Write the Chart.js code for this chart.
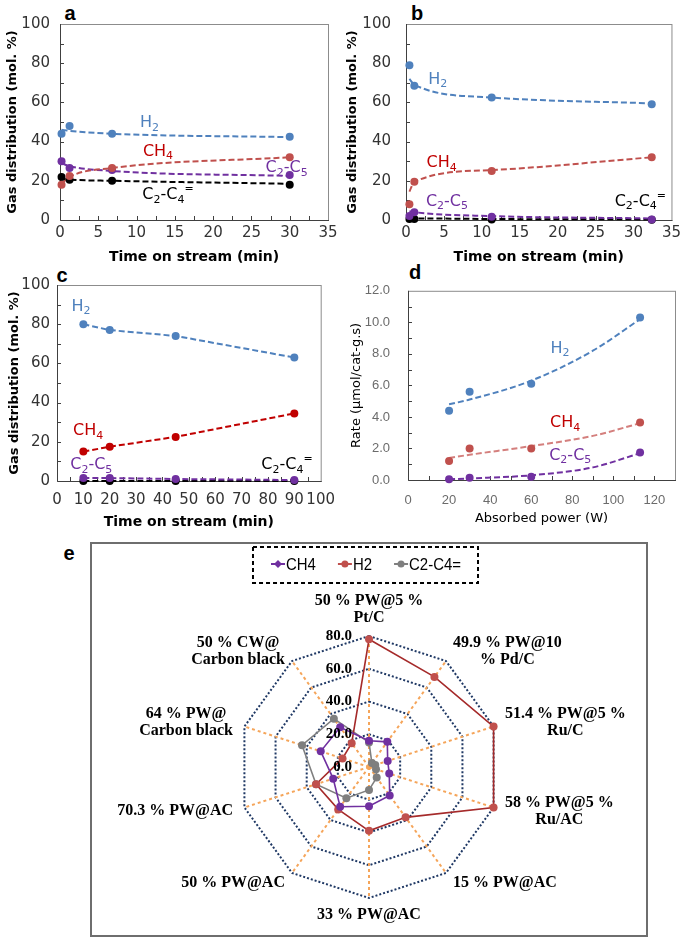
<!DOCTYPE html>
<html>
<head>
<meta charset="utf-8">
<script src="https://cdn.jsdelivr.net/npm/chart.js@4.4.1/dist/chart.umd.min.js"></script>
<style>
body { margin: 0; background: #fff; width: 685px; height: 938px; position: relative; overflow: hidden; }
canvas { position: absolute; }
.letter { position: absolute; font: bold 20px "Liberation Sans", Arial, sans-serif; transform: translate(-50%, -50%); }
#boxE { position: absolute; left: 90px; top: 542px; width: 554px; height: 391px; border: 2px solid #6e6e6e; }
</style>
</head>
<body>
<div class="letter" style="left:70px;top:13px">a</div>
<div class="letter" style="left:417px;top:13px">b</div>
<div class="letter" style="left:62px;top:275px">c</div>
<div class="letter" style="left:415px;top:272px">d</div>
<div class="letter" style="left:69px;top:553px">e</div>
<div id="boxE"></div>
<canvas id="chartA" width="345" height="266" style="left:0;top:0"></canvas>
<canvas id="chartB" width="345" height="266" style="left:340px;top:0"></canvas>
<canvas id="chartC" width="345" height="266" style="left:0;top:265px"></canvas>
<canvas id="chartD" width="345" height="266" style="left:340px;top:265px"></canvas>
<canvas id="chartE" width="554" height="391" style="left:92px;top:544px"></canvas>
<script>
//--------------------- DONNEES -------------------------
const species = ['H_2', 'CH_4', 'C_2-C_5', 'C_2-C_4^='];

// a : time on stream
const timeA = [0.2, 1.25, 6.8, 30];
const h2A = [44, 48, 44, 42.5];
const ch4A = [18, 22.5, 26.5, 32];
const c2c5A = [30, 26.5, 25.5, 23];
const olefA = [22, 20.5, 20, 18];
const h2FitA = [46, 45.5, 44, 42.3];
const ch4FitA = [18.5, 22, 26.5, 32];
const c2c5FitA = [29, 27.5, 25, 22.5];
const olefFitA = [21, 20.6, 20, 18.5];

// b
const timeB = [0.45, 1.1, 11.3, 32.4];
const h2B = [79, 68.5, 62.5, 59];
const ch4B = [8, 19.5, 25, 32];
const c2c5B = [2, 4, 1.7, 0.3];
const olefB = [0.5, 0.5, 0.2, 0.1];
const h2FitB = [72, 69, 62.5, 59.5];
const ch4FitB = [14.5, 19.5, 25.5, 32];
const c2c5FitB = [4.5, 4, 2, 0.8];
const olefFitB = [0.8, 0.8, 0.5, 0.3];

// c
const timeC = [10, 20, 45, 90];
const h2C = [80, 77, 74, 63];
const ch4C = [15, 17.5, 22.5, 34.5];
const c2c5C = [1.5, 1.5, 1, 0.5];
const olefC = [0, 0, 0, 0];

// d : absorbed power
const powerD = [20, 30, 60, 113];
const h2D = [4.4, 5.6, 6.1, 10.3];
const ch4D = [1.2, 2.0, 2.0, 3.65];
const c2c5D = [0.05, 0.15, 0.2, 1.75];
const powerFitD = [20, 30, 60, 90, 113];
const h2FitD = [4.8, 5.1, 6.3, 8.2, 10.2];
const ch4FitD = [1.4, 1.6, 2.15, 2.8, 3.6];
const c2c5FitD = [0.05, 0.1, 0.3, 0.8, 1.7];

// e : radar
const catalystsE = [['50 % PW@5 %', 'Pt/C'], ['49.9 % PW@10', '% Pd/C'], ['51.4 % PW@5 %', 'Ru/C'], ['58 % PW@5 %', 'Ru/AC'],
    '15 % PW@AC', '33 % PW@AC', '50 % PW@AC', '70.3 % PW@AC', ['64 % PW@', 'Carbon black'], ['50 % CW@', 'Carbon black']];
const ch4E = [16, 19, 12, 13, 21.5, 24, 30, 23, 31, 30];
const h2E = [78, 68, 80, 80, 38, 39, 32, 34, 17, 18];
const olefE = [15, 3, 4, 4.5, 8, 14, 23.5, 34, 43, 36.5];
const legendE = ['CH4', 'H2', 'C2-C4='];

//--------------------- COULEURS -------------------------
const BLUE = '#4f81bd', RED = '#c0504d', DRED = '#c00000', PURPLE = '#7030a0', BLACK = '#000000', GREY = '#7f7f7f';
const SANS = '"DejaVu Sans", sans-serif';
const SERIF_B = 'bold 16px "Liberation Serif", "Times New Roman", serif';

// texte avec indices / exposants : H_2, C_2-C_4^=
function drawChem(ctx, str, cx, cy, color, size) {
    const parts = [];
    for (let i = 0; i < str.length; i++) {
        const c = str[i];
        if ((c === '_' || c === '^') && i + 1 < str.length) parts.push({ t: str[++i], k: c });
        else parts.push({ t: c, k: '' });
    }
    const big = size + 'px ' + SANS, small = Math.round(size * 0.68) + 'px ' + SANS;
    ctx.save();
    ctx.fillStyle = color;
    ctx.textBaseline = 'middle';
    ctx.textAlign = 'left';
    let w = 0;
    parts.forEach(p => { ctx.font = p.k ? small : big; p.w = ctx.measureText(p.t).width; w += p.w; });
    let xx = cx - w / 2;
    parts.forEach(p => {
        ctx.font = p.k ? small : big;
        const dy = p.k === '_' ? size * 0.3 : (p.k === '^' ? -size * 0.35 : 0);
        ctx.fillText(p.t, xx, cy + dy);
        xx += p.w;
    });
    ctx.restore();
}

// cadre + petites graduations + noms des gaz
const framePlugin = {
    id: 'frame',
    beforeDatasetsDraw(chart, args, o) {
        const { ctx, chartArea: a, scales: { x, y } } = chart;
        ctx.save();
        ctx.lineWidth = 1;
        ctx.strokeStyle = '#8c8c8c';
        ctx.strokeRect(a.left + 0.5, a.top + 0.5, a.right - a.left, a.bottom - a.top);
        ctx.strokeStyle = '#404040';
        ctx.beginPath();
        ctx.moveTo(a.left + 0.5, a.top);
        ctx.lineTo(a.left + 0.5, a.bottom + 0.5);
        ctx.lineTo(a.right + 1, a.bottom + 0.5);
        for (let v = x.min + o.xMinor; v < x.max - 1e-6; v += o.xMinor) {
            const p = Math.round(x.getPixelForValue(v)) + 0.5;
            ctx.moveTo(p, a.bottom); ctx.lineTo(p, a.bottom - 4);
        }
        for (let v = y.min + o.yMinor; v < y.max - 1e-6; v += o.yMinor) {
            const p = Math.round(y.getPixelForValue(v)) + 0.5;
            ctx.moveTo(a.left, p); ctx.lineTo(a.left + 4, p);
        }
        ctx.stroke();
        ctx.restore();
    },
    afterDatasetsDraw(chart, args, o) {
        const { scales: { x, y } } = chart;
        (o.names || []).forEach(n => drawChem(chart.ctx, n.text, x.getPixelForValue(n.x), y.getPixelForValue(n.y), n.color, 16));
    }
};

function pts(xs, ys) { return xs.map((x, i) => ({ x: x, y: ys[i] })); }

function dots(xs, ys, color) {
    return { data: pts(xs, ys), showLine: false, pointRadius: 4, pointHoverRadius: 4, pointBorderWidth: 0,
        pointBackgroundColor: color, pointBorderColor: color, clip: false, order: 0 };
}

function trend(xs, ys, color, smooth) {
    return { data: pts(xs, ys), showLine: true, pointRadius: 0, borderColor: color, borderWidth: 2, borderDash: [6, 3],
        tension: 0, cubicInterpolationMode: smooth ? 'monotone' : 'default', clip: false, order: 1 };
}

function lineChart(id, sets, c) {
    return new Chart(document.getElementById(id).getContext('2d'), {
        type: 'scatter',
        data: { datasets: sets },
        options: {
            responsive: false,
            animation: false,
            layout: { padding: { left: 0, right: c.padR, top: c.padT, bottom: 0 } },
            plugins: {
                legend: { display: false },
                tooltip: { enabled: false },
                frame: { xMinor: c.xMinor, yMinor: c.yMinor, names: c.names }
            },
            scales: {
                x: {
                    type: 'linear', min: 0, max: c.xMax,
                    afterFit: s => { s.height = c.xH; },
                    grid: { display: false, drawTicks: false }, border: { display: false },
                    ticks: { stepSize: c.xStep, includeBounds: false, padding: c.xPad, color: c.tickColor,
                        font: { family: c.tickFamily, size: c.tickSize }, maxRotation: 0, autoSkip: false },
                    title: { display: true, text: c.xTitle, color: '#000', padding: { top: 0, bottom: c.xTitlePad },
                        font: { family: SANS, size: c.titleSize, weight: c.titleWeight } }
                },
                y: {
                    type: 'linear', min: 0, max: c.yMax,
                    afterFit: s => { s.width = c.yW; },
                    grid: { display: false, drawTicks: false }, border: { display: false },
                    ticks: { stepSize: c.yStep, padding: c.yPad, color: c.tickColor, callback: c.yFmt,
                        font: { family: c.tickFamily, size: c.tickSize } },
                    title: { display: true, text: c.yTitle, color: '#000', padding: { top: c.yTitlePad, bottom: 0 },
                        font: { family: SANS, size: c.yTitleSize, weight: c.titleWeight } }
                }
            }
        },
        plugins: [framePlugin]
    });
}

const timeAxis = {
    xTitle: 'Time on stream (min)', yTitle: 'Gas distribution (mol. %)', yMax: 100, yStep: 20, yMinor: 10,
    tickColor: '#333', tickFamily: '"DejaVu Sans", sans-serif', tickSize: 15,
    titleSize: 14, yTitleSize: 13, titleWeight: 'bold', xTitlePad: 0
};

//--------------------- GRAPH a -------------------------
lineChart('chartA', [
    trend(timeA, h2FitA, BLUE, true), trend(timeA, ch4FitA, RED, true),
    trend(timeA, c2c5FitA, PURPLE, true), trend(timeA, olefFitA, BLACK, true),
    dots(timeA, h2A, BLUE), dots(timeA, ch4A, RED), dots(timeA, c2c5A, PURPLE), dots(timeA, olefA, BLACK)
], Object.assign({}, timeAxis, {
    padT: 24, padR: 17, xH: 46, yW: 60, xMax: 35, xStep: 5, xMinor: 2.5, xPad: 4, yPad: 10, yTitlePad: 5,
    names: [
        { text: species[0], x: 11.7, y: 49.4, color: BLUE },
        { text: species[1], x: 12.8, y: 35, color: DRED },
        { text: species[2], x: 29.6, y: 26.4, color: PURPLE },
        { text: species[3], x: 14.1, y: 12.8, color: BLACK }
    ]
}));

//--------------------- GRAPH b -------------------------
lineChart('chartB', [
    trend(timeB, h2FitB, BLUE, true), trend(timeB, ch4FitB, RED, true),
    trend(timeB, c2c5FitB, PURPLE, true), trend(timeB, olefFitB, BLACK, true),
    dots(timeB, h2B, BLUE), dots(timeB, ch4B, RED), dots(timeB, c2c5B, PURPLE), dots(timeB, olefB, BLACK)
], Object.assign({}, timeAxis, {
    padT: 24, padR: 12, xH: 46, yW: 66, xMax: 35, xStep: 5, xMinor: 2.5, xPad: 4, yPad: 15, yTitlePad: 5,
    names: [
        { text: species[0], x: 4.2, y: 71.6, color: BLUE },
        { text: species[1], x: 4.7, y: 29, color: DRED },
        { text: species[2], x: 5.4, y: 9.4, color: PURPLE },
        { text: species[3], x: 30.9, y: 9.4, color: BLACK }
    ]
}));

//--------------------- GRAPH c -------------------------
lineChart('chartC', [
    trend(timeC, h2C, BLUE, false), trend(timeC, ch4C, DRED, false),
    trend(timeC, c2c5C, PURPLE, false), trend(timeC, olefC, BLACK, false),
    dots(timeC, h2C, BLUE), dots(timeC, ch4C, DRED), dots(timeC, c2c5C, PURPLE), dots(timeC, olefC, BLACK)
], Object.assign({}, timeAxis, {
    padT: 20, padR: 18, xH: 50, yW: 57, xMax: 100, xStep: 10, xMinor: 5, xPad: 10, yPad: 7, yTitlePad: 7,
    names: [
        { text: species[0], x: 9.1, y: 89, color: BLUE },
        { text: species[1], x: 11.8, y: 25.5, color: DRED },
        { text: species[2], x: 13, y: 8.2, color: PURPLE },
        { text: species[3], x: 87.2, y: 8.2, color: BLACK }
    ]
}));

//--------------------- GRAPH d -------------------------
lineChart('chartD', [
    trend(powerFitD, h2FitD, BLUE, true), trend(powerFitD, ch4FitD, '#d47f7d', true), trend(powerFitD, c2c5FitD, PURPLE, true),
    dots(powerD, h2D, BLUE), dots(powerD, ch4D, RED), dots(powerD, c2c5D, PURPLE)
], {
    xTitle: 'Absorbed power (W)', yTitle: 'Rate (\u00b5mol/cat-g.s)', yMax: 12, yStep: 2, yMinor: 1,
    yFmt: v => v.toFixed(1), tickColor: '#6b6b6b', tickFamily: '"Liberation Sans", Arial, sans-serif', tickSize: 13,
    titleSize: 13, yTitleSize: 13, titleWeight: 'normal', xTitlePad: 5,
    padT: 20, padR: 10, xH: 51, yW: 68, xMax: 130, xStep: 20, xMinor: 10, xPad: 13, yPad: 18, yTitlePad: 9,
    names: [
        { text: species[0], x: 74, y: 8.35, color: BLUE },
        { text: species[1], x: 76.5, y: 3.6, color: DRED },
        { text: species[2], x: 79, y: 1.54, color: PURPLE }
    ]
});

//--------------------- GRAPH e (radar) -------------------------
const radarColors = [PURPLE, RED, GREY];
const radarLines = [PURPLE, '#a52a2a', GREY];

const radarExtras = {
    id: 'radarExtras',
    afterDatasetsDraw(chart) {
        const { ctx } = chart;
        const r = chart.scales.r;
        const R = r.drawingArea;
        ctx.save();
        ctx.font = 'bold 15px "Liberation Serif", "Times New Roman", serif';
        ctx.fillStyle = '#000';
        ctx.textAlign = 'right';
        ctx.textBaseline = 'middle';
        // graduations 0.0 ... 80.0
        r.ticks.forEach(t => {
            ctx.fillText(t.value.toFixed(1), r.xCenter - 17, r.yCenter - r.getDistanceFromCenterForValue(t.value));
        });
        // noms des catalyseurs
        ctx.font = SERIF_B;
        ctx.textAlign = 'center';
        const lh = 17;
        chart.data.labels.forEach((lab, i) => {
            const lines = Array.isArray(lab) ? lab : [lab];
            const w = Math.max(...lines.map(l => ctx.measureText(l).width));
            const h = lines.length * lh;
            const p = r.getPointPosition(i, R + 12);
            const dx = p.x - r.xCenter;
            let cx, cy;
            if (Math.abs(dx) < 2) {
                const q = r.getPointPosition(i, R + 8);
                cx = q.x;
                cy = q.y < r.yCenter ? q.y - 2 - h / 2 : q.y + h / 2;
            } else {
                cx = dx > 0 ? p.x + w / 2 : p.x - w / 2;
                cy = p.y;
            }
            lines.forEach((l, k) => ctx.fillText(l, cx, cy - h / 2 + lh / 2 + k * lh));
        });
        ctx.restore();
    },
    afterDraw(chart) {
        // legende dans un cadre pointille
        const ctx = chart.ctx;
        const sx = 0.88, yMid = 20, iconW = 14, gapItem = 22;
        ctx.save();
        ctx.font = '17px "Liberation Sans", Arial, sans-serif';
        const items = legendE.map((t, i) => ({ t: t, w: ctx.measureText(t).width * sx, c: radarColors[i] }));
        const total = items.reduce((s, it) => s + iconW + 1 + it.w, 0) + gapItem * (items.length - 1);
        let x = chart.width / 2 - 3 - total / 2;
        const x0 = x;
        items.forEach((it, i) => {
            ctx.strokeStyle = it.c; ctx.fillStyle = it.c; ctx.lineWidth = 2; ctx.setLineDash([]);
            ctx.beginPath(); ctx.moveTo(x, yMid); ctx.lineTo(x + iconW, yMid); ctx.stroke();
            ctx.beginPath();
            if (i === 0) {
                ctx.moveTo(x + 7, yMid - 4); ctx.lineTo(x + 11, yMid); ctx.lineTo(x + 7, yMid + 4); ctx.lineTo(x + 3, yMid); ctx.closePath();
            } else {
                ctx.arc(x + 7, yMid, 3.5, 0, Math.PI * 2);
            }
            ctx.fill();
            x += iconW + 1;
            ctx.save();
            ctx.translate(x, yMid);
            ctx.scale(sx, 1);
            ctx.fillStyle = '#000';
            ctx.textAlign = 'left';
            ctx.textBaseline = 'middle';
            ctx.fillText(it.t, 0, 1);
            ctx.restore();
            x += it.w + gapItem;
        });
        const x1 = x - gapItem;
        ctx.strokeStyle = '#000'; ctx.lineWidth = 2; ctx.setLineDash([4, 3]);
        ctx.strokeRect(x0 - 18, 3, x1 - x0 + 35, 36);
        ctx.restore();
    }
};

new Chart(document.getElementById('chartE').getContext('2d'), {
    type: 'radar',
    data: {
        labels: catalystsE,
        datasets: [ch4E, h2E, olefE].map((vals, i) => ({
            label: legendE[i], data: vals, fill: false,
            borderColor: radarLines[i], borderWidth: 1.6,
            pointRadius: 4, pointHoverRadius: 4, pointBorderWidth: 0,
            pointBackgroundColor: radarColors[i], pointBorderColor: radarColors[i]
        }))
    },
    options: {
        responsive: false,
        animation: false,
        layout: { padding: { left: 146, right: 146, top: 92, bottom: 37 } },
        plugins: { tooltip: { enabled: false }, legend: { display: false } },
        scales: {
            r: {
                min: 0, max: 80,
                ticks: { stepSize: 20, display: false },
                grid: { color: '#1f3864', lineWidth: 2 },
                border: { dash: [2, 2] },
                angleLines: { color: '#f5a55a', lineWidth: 2, borderDash: [3, 3] },
                pointLabels: { display: false }
            }
        }
    },
    plugins: [radarExtras]
});
</script>
</body>
</html>
